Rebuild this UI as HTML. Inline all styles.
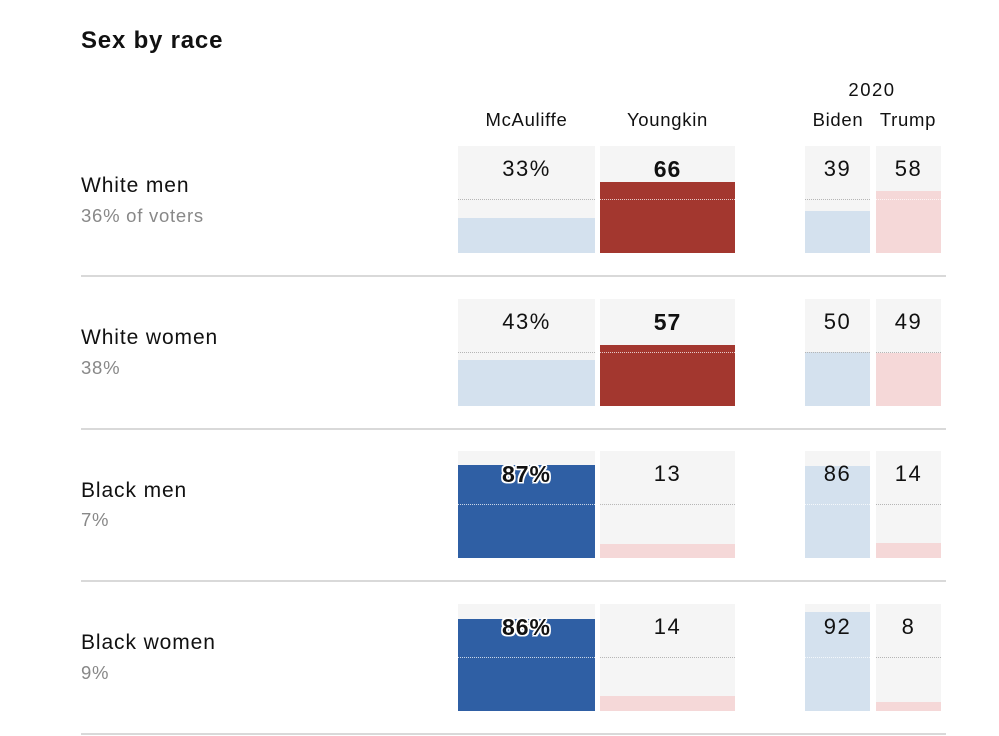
<!DOCTYPE html>
<html><head><meta charset="utf-8"><style>
*{margin:0;padding:0;box-sizing:border-box}
body{width:999px;height:736px;background:#fff;position:relative;overflow:hidden;font-family:"Liberation Sans",Arial,sans-serif;color:#111}
.t{position:absolute;line-height:1;white-space:nowrap}
.title{left:81px;top:29px;font-size:24px;font-weight:bold;letter-spacing:0.8px}
.hd{font-size:18.5px;letter-spacing:0.7px;text-align:center}
.lab{left:81px;font-size:21px;letter-spacing:0.9px}
.sub{left:81px;font-size:18.5px;letter-spacing:0.75px;color:#888}
.box{position:absolute;background:#f5f5f5;overflow:hidden}
.bar{position:absolute;left:0;right:0;bottom:0}
.dot{position:absolute;left:0;right:0;top:53px;border-top:1px dotted #b5b5b5}
.dot.w{border-top-color:rgba(255,255,255,0.75)}
.num{position:absolute;left:0;right:0;top:12.4px;text-align:center;font-size:22px;letter-spacing:1.5px;line-height:1;color:#111}
.b{font-weight:bold;font-size:23px;letter-spacing:1px}
.o{text-shadow:-1.5px -1.5px 0 #fff,1.5px -1.5px 0 #fff,-1.5px 1.5px 0 #fff,1.5px 1.5px 0 #fff,0 -1.5px 0 #fff,0 1.5px 0 #fff,-1.5px 0 0 #fff,1.5px 0 0 #fff}
.sep{position:absolute;left:81px;width:865px;height:2px;background:#d9d9d9}
.lb{background:#d4e1ee}.pk{background:#f5d8d8}.dr{background:#a3372f}.db{background:#2f5fa4}
</style></head><body>
<div class="t title">Sex by race</div>
<div class="t hd" style="left:458px;width:137px;top:111px">McAuliffe</div>
<div class="t hd" style="left:600px;width:135px;top:111px">Youngkin</div>
<div class="t hd" style="left:822px;width:100px;top:81px;letter-spacing:1.5px">2020</div>
<div class="t hd" style="left:797px;width:82px;top:111px">Biden</div>
<div class="t hd" style="left:867px;width:82px;top:111px">Trump</div>

<!-- Row 1 -->
<div class="t lab" style="top:174.9px">White men</div>
<div class="t sub" style="top:207px">36% of voters</div>
<div class="box" style="left:458px;top:146px;width:137px;height:107px"><div class="bar lb" style="height:35.3px"></div><div class="dot"></div><div class="num">33%</div></div>
<div class="box" style="left:600px;top:146px;width:135px;height:107px"><div class="bar dr" style="height:70.6px"></div><div class="dot w"></div><div class="num b">66</div></div>
<div class="box" style="left:805px;top:146px;width:65px;height:107px"><div class="bar lb" style="height:41.7px"></div><div class="dot"></div><div class="num">39</div></div>
<div class="box" style="left:876px;top:146px;width:65px;height:107px"><div class="bar pk" style="height:62.1px"></div><div class="dot w"></div><div class="num">58</div></div>
<div class="sep" style="top:275px"></div>

<!-- Row 2 -->
<div class="t lab" style="top:327.2px">White women</div>
<div class="t sub" style="top:358.6px">38%</div>
<div class="box" style="left:458px;top:298.5px;width:137px;height:107px"><div class="bar lb" style="height:46px"></div><div class="dot"></div><div class="num">43%</div></div>
<div class="box" style="left:600px;top:298.5px;width:135px;height:107px"><div class="bar dr" style="height:61px"></div><div class="dot w"></div><div class="num b">57</div></div>
<div class="box" style="left:805px;top:298.5px;width:65px;height:107px"><div class="bar lb" style="height:53.5px"></div><div class="dot"></div><div class="num">50</div></div>
<div class="box" style="left:876px;top:298.5px;width:65px;height:107px"><div class="bar pk" style="height:52.4px"></div><div class="dot"></div><div class="num">49</div></div>
<div class="sep" style="top:427.5px"></div>

<!-- Row 3 -->
<div class="t lab" style="top:479.7px">Black men</div>
<div class="t sub" style="top:511.1px">7%</div>
<div class="box" style="left:458px;top:451px;width:137px;height:107px"><div class="bar db" style="height:93.1px"></div><div class="dot w"></div><div class="num b o">87%</div></div>
<div class="box" style="left:600px;top:451px;width:135px;height:107px"><div class="bar pk" style="height:13.9px"></div><div class="dot"></div><div class="num">13</div></div>
<div class="box" style="left:805px;top:451px;width:65px;height:107px"><div class="bar lb" style="height:92px"></div><div class="dot w"></div><div class="num">86</div></div>
<div class="box" style="left:876px;top:451px;width:65px;height:107px"><div class="bar pk" style="height:15px"></div><div class="dot"></div><div class="num">14</div></div>
<div class="sep" style="top:580px"></div>

<!-- Row 4 -->
<div class="t lab" style="top:632.2px">Black women</div>
<div class="t sub" style="top:663.6px">9%</div>
<div class="box" style="left:458px;top:603.5px;width:137px;height:107px"><div class="bar db" style="height:92px"></div><div class="dot w"></div><div class="num b o">86%</div></div>
<div class="box" style="left:600px;top:603.5px;width:135px;height:107px"><div class="bar pk" style="height:15px"></div><div class="dot"></div><div class="num">14</div></div>
<div class="box" style="left:805px;top:603.5px;width:65px;height:107px"><div class="bar lb" style="height:98.4px"></div><div class="dot w"></div><div class="num">92</div></div>
<div class="box" style="left:876px;top:603.5px;width:65px;height:107px"><div class="bar pk" style="height:8.6px"></div><div class="dot"></div><div class="num">8</div></div>
<div class="sep" style="top:732.5px"></div>
</body></html>
